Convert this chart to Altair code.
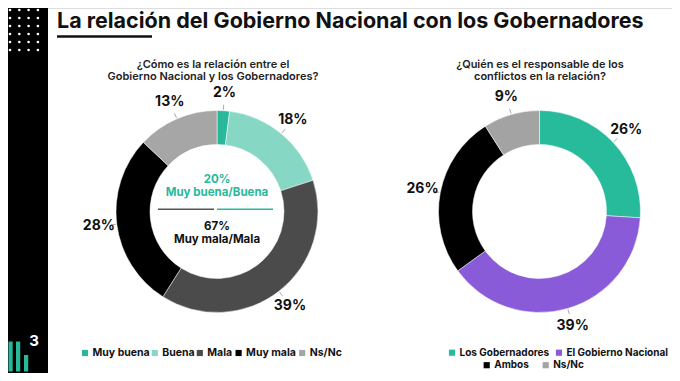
import altair as alt
import pandas as pd

# ---------------- data ----------------
rel_cats = ["Muy buena", "Buena", "Mala", "Muy mala", "Ns/Nc"]
rel_vals = [2, 18, 39, 28, 13]
rel_colors = ["#27b99a", "#86d8c5", "#4b4b4b", "#000000", "#a6a6a6"]

resp_cats = ["Los Gobernadores", "El Gobierno Nacional", "Ambos", "Ns/Nc"]
resp_vals = [26, 39, 26, 9]
resp_colors = ["#27bb9b", "#8a5bd9", "#000000", "#a3a3a3"]
resp_legend_rows = [["Los Gobernadores", "El Gobierno Nacional"], ["Ambos", "Ns/Nc"]]

title_text = "La relación del Gobierno Nacional con los Gobernadores"
q1_lines = ["¿Cómo es la relación entre el", "Gobierno Nacional y los Gobernadores?"]
q2_lines = ["¿Quién es el responsable de los", "conflictos en la relación?"]
center_pos = ["20%", "Muy buena/Buena"]
center_neg = ["67%", "Muy mala/Mala"]
logo_digit = "3"

# ---------------- layout / style ----------------
FONT = "Inter"
W, H = 664, 365
CX1, CY1 = 209, 203.5
CX2, CY2 = 531.5, 203.5
R_OUT, R_IN, R_LAB = 101, 67, 119
TEAL = "#27b99a"

dummy = pd.DataFrame({"a": [0]})


def text_mark(text, x, y, size, color="#111", weight="bold", align="center",
              baseline="middle", line_height=None):
    kw = dict(text=text, font=FONT, fontSize=size, fontWeight=weight,
              color=color, align=align, baseline=baseline)
    if line_height is not None:
        kw["lineHeight"] = line_height
    return alt.Chart(dummy).mark_text(**kw).encode(x=alt.value(x), y=alt.value(y))


def legend_row(cats, all_cats, colors, x0, y, char_w=6.2, gap=5, fs=10.5):
    """One row of a legend: coloured square + label, laid out with transforms."""
    df = pd.DataFrame({"cat": cats, "orden": list(range(len(cats)))})
    base = alt.Chart(df).transform_calculate(
        w=f"length(datum.cat) * {char_w} + 10 + {gap}"
    ).transform_window(
        cum="sum(w)", sort=[alt.SortField("orden")], frame=[None, 0]
    ).transform_calculate(
        sx=f"{x0} + datum.cum - datum.w",
        tx=f"{x0} + datum.cum - datum.w + 7.5",
    )
    sq = base.mark_square(size=38, opacity=1).encode(
        x=alt.X("sx:Q", scale=None), y=alt.value(y),
        color=alt.Color("cat:N", scale=alt.Scale(domain=all_cats, range=colors),
                        legend=None),
    )
    tx = base.mark_text(align="left", baseline="middle", font=FONT,
                        fontWeight="bold", fontSize=fs, color="#111").encode(
        x=alt.X("tx:Q", scale=None), y=alt.value(y), text="cat:N")
    return [sq, tx]


def donut(cats, vals, colors, cx, cy, legend_layers):
    df = pd.DataFrame({"cat": cats, "val": vals, "orden": list(range(len(cats)))})
    base = alt.Chart(df).encode(
        theta=alt.Theta("val:Q", stack=True),
        order=alt.Order("orden:Q"),
    )
    arcs = base.mark_arc(x=cx, y=cy, radius=R_OUT, radius2=R_IN, stroke="white",
                         strokeWidth=0.5).encode(
        color=alt.Color("cat:N", scale=alt.Scale(domain=cats, range=colors),
                        legend=None)
    )
    labels = base.transform_calculate(lab="datum.val + '%'").mark_text(
        x=cx, y=cy, radius=R_LAB, font=FONT, fontWeight="bold", fontSize=14,
        color="#111"
    ).encode(text="lab:N")
    leaders = alt.Chart(df).transform_window(
        cum="sum(val)", sort=[alt.SortField("orden")], frame=[None, 0]
    ).transform_joinaggregate(total="sum(val)").transform_calculate(
        a="(datum.cum - datum.val/2)/datum.total*2*PI"
    ).transform_calculate(
        lx1=f"{cx} + {R_OUT + 1}*sin(datum.a)",
        ly1=f"{cy} - {R_OUT + 1}*cos(datum.a)",
        lx2=f"{cx} + {R_OUT + 6}*sin(datum.a)",
        ly2=f"{cy} - {R_OUT + 6}*cos(datum.a)",
    ).mark_rule(color="#aaaaaa", strokeWidth=1).encode(
        x=alt.X("lx1:Q", scale=None), y=alt.Y("ly1:Q", scale=None),
        x2="lx2:Q", y2="ly2:Q",
    )
    return alt.layer(arcs, leaders, labels, *legend_layers)


left = donut(rel_cats, rel_vals, rel_colors, CX1, CY1,
             legend_row(rel_cats, rel_cats, rel_colors, 77, 345, char_w=6.2, gap=4))
right = donut(resp_cats, resp_vals, resp_colors, CX2, CY2,
              legend_row(resp_legend_rows[0], resp_cats, resp_colors, 444, 344.7,
                         char_w=5.56, gap=8, fs=10)
              + legend_row(resp_legend_rows[1], resp_cats, resp_colors, 478.7, 357.2,
                           char_w=6.2, gap=18, fs=10))

# decoration
sidebar = alt.Chart(dummy).mark_rect(color="#000000").encode(
    x=alt.value(0), x2=alt.value(40), y=alt.value(0), y2=alt.value(H))
dots = alt.Chart(alt.sequence(0, 24, as_="i")).transform_calculate(
    dx="2 + (datum.i % 4) * 9.3", dy="2 + floor(datum.i / 4) * 8"
).mark_circle(color="white", size=7, opacity=1).encode(
    x=alt.X("dx:Q", scale=None), y=alt.Y("dy:Q", scale=None))
bar1 = alt.Chart(dummy).mark_rect(color=TEAL).encode(
    x=alt.value(0.5), x2=alt.value(4.7), y=alt.value(333.5), y2=alt.value(363.5))
bar2 = alt.Chart(dummy).mark_rect(color=TEAL).encode(
    x=alt.value(8), x2=alt.value(12.2), y=alt.value(333.5), y2=alt.value(363.5))
bar3 = alt.Chart(dummy).mark_rect(color=TEAL).encode(
    x=alt.value(16), x2=alt.value(20.2), y=alt.value(347), y2=alt.value(363.5))
digit = text_mark(logo_digit, 26, 333, 15, color="white")

title = text_mark(title_text, 49, 19.5, 21.5, align="left", baseline="alphabetic")
underline = alt.Chart(dummy).mark_rule(color="#111", strokeWidth=2.5).encode(
    x=alt.value(49), x2=alt.value(144), y=alt.value(28.5))

q1 = text_mark(q1_lines, 205, 56.5, 11, color="#222", weight=600, line_height=12.5)
q2 = text_mark(q2_lines, 532, 56.5, 11, color="#222", weight=600, line_height=12.5)

c_pos = text_mark(center_pos, 209, 171.5, 11.5, color=TEAL, line_height=13)
c_neg = text_mark(center_neg, 209, 218.5, 11.5, color="#111", line_height=13)
line_g = alt.Chart(dummy).mark_rule(color="#555", strokeWidth=1.5).encode(
    x=alt.value(150), x2=alt.value(206), y=alt.value(201.3))
line_t = alt.Chart(dummy).mark_rule(color=TEAL, strokeWidth=1.5).encode(
    x=alt.value(209), x2=alt.value(265), y=alt.value(201.3))

chart = alt.layer(
    sidebar, dots, bar1, bar2, bar3, digit, title, underline, q1, q2,
    left, right, c_pos, c_neg, line_g, line_t,
).resolve_scale(color="independent", theta="independent").properties(
    width=W, height=H, padding=0,
    autosize=alt.AutoSizeParams(type="none"),
).configure_view(stroke=None).configure(background="white")

chart.save("out.html", embed_options={"renderer": "svg", "actions": False})
